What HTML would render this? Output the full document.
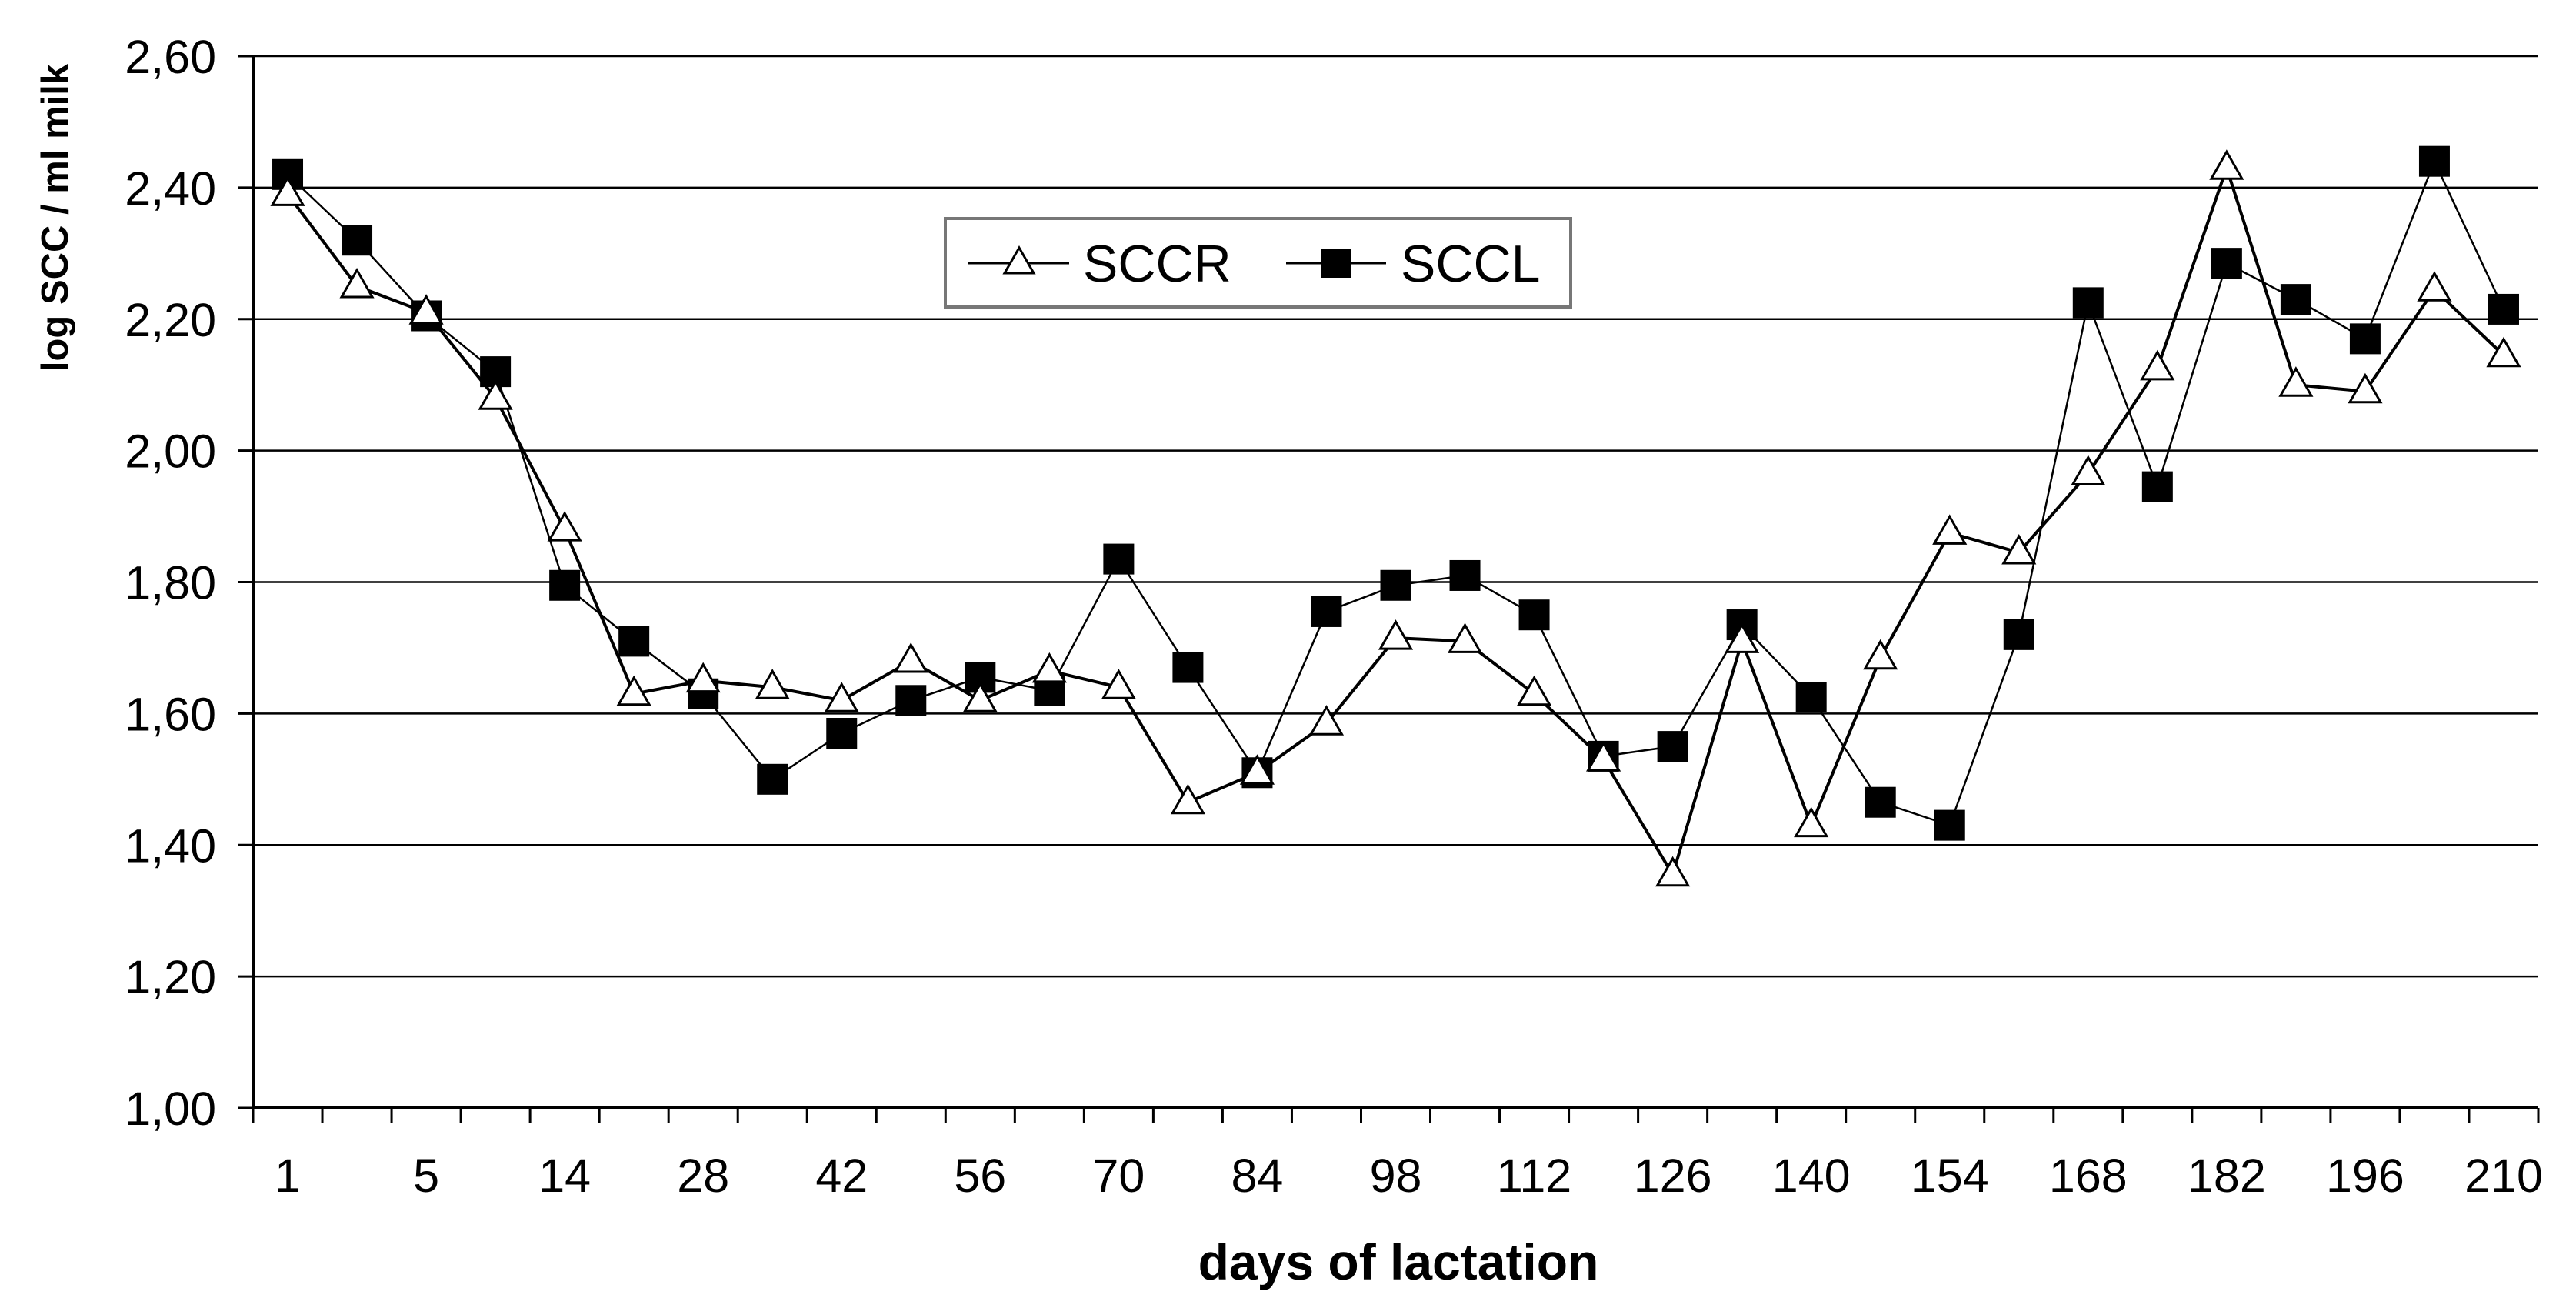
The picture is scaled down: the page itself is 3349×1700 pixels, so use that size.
<!DOCTYPE html>
<html><head><meta charset="utf-8"><style>
html,body{margin:0;padding:0;background:#fff;}
svg{display:block;font-family:"Liberation Sans",Arial,sans-serif;}
</style></head><body>
<svg id="chart" width="3349" height="1700" viewBox="0 0 3349 1700" xmlns="http://www.w3.org/2000/svg">
<g id="grid"></g>
<g id="axes"></g>
<g id="series"></g>
<text transform="translate(88,283) rotate(-90)" text-anchor="middle" font-size="49" font-weight="bold">log SCC / ml milk</text>
<text x="1818" y="1663" text-anchor="middle" font-size="66" font-weight="bold">days of lactation</text>
<g>
<rect x="1229" y="284" width="813" height="115" fill="#fff" stroke="#777" stroke-width="4"/>
<g>
<line x1="1258" y1="342" x2="1390" y2="342" stroke="#000" stroke-width="3"/>
<polygon points="1325,322 1344,355 1306,355" fill="#fff" stroke="#000" stroke-width="3"/>
<text x="1408" y="366" font-size="68">SCCR</text>
</g>
<g>
<line x1="1672" y1="342" x2="1802" y2="342" stroke="#000" stroke-width="3"/>
<rect x="1718" y="323" width="38" height="38" fill="#000"/>
<text x="1821" y="366" font-size="68">SCCL</text>
</g>
</g>
</svg>
<script>
const categories=[1,3,5,7,14,21,28,35,42,49,56,63,70,77,84,91,98,105,112,119,126,133,140,147,154,161,168,175,182,189,196,203,210];
const sccr=[2.39,2.25,2.21,2.08,1.88,1.63,1.65,1.64,1.62,1.68,1.62,1.665,1.64,1.465,1.51,1.585,1.715,1.71,1.63,1.53,1.355,1.71,1.43,1.685,1.875,1.845,1.965,2.125,2.43,2.10,2.09,2.245,2.145];
const sccl=[2.42,2.32,2.205,2.12,1.795,1.71,1.63,1.50,1.57,1.62,1.655,1.635,1.835,1.67,1.51,1.755,1.795,1.81,1.75,1.535,1.55,1.735,1.625,1.465,1.43,1.72,2.225,1.945,2.285,2.23,2.17,2.44,2.215];
const yTicks=[1.0,1.2,1.4,1.6,1.8,2.0,2.2,2.4,2.6];
const yTickLabels=["1,00","1,20","1,40","1,60","1,80","2,00","2,20","2,40","2,60"];

const NS="http://www.w3.org/2000/svg";
const L=329,R=3300,T=73,B=1440,yMin=1.0,yMax=2.6;
const step=(R-L)/categories.length;
function xPos(i){return L+step*(i+0.5);}
function yPos(v){return B-(v-yMin)/(yMax-yMin)*(B-T);}
function mk(tag,attrs,parent){const e=document.createElementNS(NS,tag);for(const k in attrs)e.setAttribute(k,attrs[k]);parent.appendChild(e);return e;}
const grid=document.getElementById('grid'),axes=document.getElementById('axes'),ser=document.getElementById('series');

yTicks.forEach((v,i)=>{
  const y=yPos(v);
  if(i>0){const g=mk('line',{x1:L,y1:y,x2:R,y2:y,stroke:'#000','stroke-width':2.5},grid);
  
  }
  const t=mk('line',{x1:L-20,y1:y,x2:L,y2:y,stroke:'#000','stroke-width':3},axes);
  
  
  const lb=mk('text',{x:281,y:y+22,'text-anchor':'end','font-size':61},axes);
  lb.textContent=yTickLabels[i];
  
  
});
const ya=mk('line',{x1:L,y1:T,x2:L,y2:B,stroke:'#000','stroke-width':4},axes);


const xa=mk('line',{x1:L,y1:B,x2:R,y2:B,stroke:'#000','stroke-width':4},axes);


for(let i=0;i<=categories.length;i++){
  const x=L+step*i;
  const t=mk('line',{x1:x,y1:B,x2:x,y2:B+20,stroke:'#000','stroke-width':3},axes);
  
  
}
categories.forEach((c,i)=>{
  if(i%2!==0)return;
  const lb=mk('text',{x:xPos(i),y:1549,'text-anchor':'middle','font-size':61},axes);
  lb.textContent=String(c);
  
  
});

function line(vals,w,name){
  const p=mk('polyline',{points:vals.map((v,i)=>xPos(i)+','+yPos(v)).join(' '),fill:'none',stroke:'#000','stroke-width':w,'stroke-linejoin':'round'},ser);
  
  
}
line(sccl,2.5,'sccl-line');
line(sccr,4,'sccr-line');
sccl.forEach((v,i)=>{
  const r=mk('rect',{x:xPos(i)-20,y:yPos(v)-20,width:40,height:40,fill:'#000'},ser);
  
  
});
sccr.forEach((v,i)=>{
  const x=xPos(i),y=yPos(v);
  const p=mk('polygon',{points:`${x},${y-21} ${x+20},${y+14} ${x-20},${y+14}`,fill:'#fff',stroke:'#000','stroke-width':3},ser);
  
  
});
</script>
</body></html>
